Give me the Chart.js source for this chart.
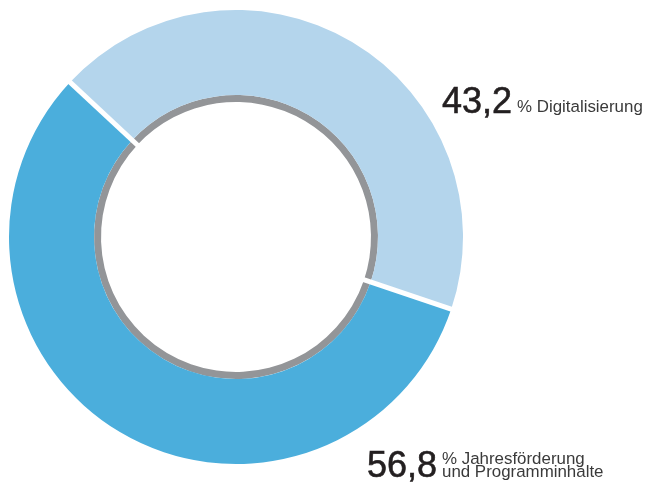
<!DOCTYPE html>
<html>
<head>
<meta charset="utf-8">
<script src="https://cdn.jsdelivr.net/npm/chart.js@4.4.1/dist/chart.umd.min.js"></script>
<style>
  html, body { margin: 0; padding: 0; background: #ffffff; }
  #wrap { position: relative; width: 650px; height: 485px; overflow: hidden; }
  canvas { position: absolute; left: 0; top: 0; }
  .lbl { position: absolute; white-space: nowrap; font-family: "Liberation Sans", Arial, sans-serif; }
  .big { font-size: 36px; line-height: 36px; color: #231f20; -webkit-text-stroke: 0.6px #231f20; }
  .small { font-size: 16.9px; line-height: 12.5px; color: #3a3a3a; }
</style>
</head>
<body>
<div id="wrap">
  <canvas id="c" width="650" height="485"></canvas>
  <div class="lbl big" style="left:442px; top:82.5px;">43,2</div>
  <div class="lbl small" style="left:517px; top:101px;">% Digitalisierung</div>
  <div class="lbl big" style="left:367px; top:446.5px;">56,8</div>
  <div class="lbl small" style="left:442px; top:453px;">% Jahresförderung<br>und Programminhalte</div>
</div>
<script>
const categories = ["Digitalisierung", "Jahresförderung und Programminhalte"];
const shares = [43.2, 56.8];
const segmentColors = ["#b4d5ec", "#4baedc"];
const ringColor = "#939598";

const gapLines = {
  id: "gapLines",
  afterDatasetsDraw(chart) {
    const ctx = chart.ctx;
    const meta = chart.getDatasetMeta(0);
    const inner = chart.getDatasetMeta(1);
    ctx.save();
    ctx.strokeStyle = "#ffffff";
    ctx.lineWidth = 5;
    meta.data.forEach((arc) => {
      const a = arc.startAngle;
      const r0 = inner.data[0].innerRadius - 2;
      const r1 = arc.outerRadius + 3;
      ctx.beginPath();
      ctx.moveTo(arc.x + Math.cos(a) * r0, arc.y + Math.sin(a) * r0);
      ctx.lineTo(arc.x + Math.cos(a) * r1, arc.y + Math.sin(a) * r1);
      ctx.stroke();
    });
    ctx.restore();
  }
};

new Chart(document.getElementById("c"), {
  type: "doughnut",
  data: {
    labels: categories,
    datasets: [
      { data: shares, backgroundColor: segmentColors, borderWidth: 0, weight: 85 },
      { data: shares, backgroundColor: [ringColor, ringColor], borderWidth: 0, weight: 7 }
    ]
  },
  options: {
    responsive: false,
    maintainAspectRatio: false,
    animation: false,
    rotation: -47,
    cutout: "59.47%",
    layout: { padding: { left: 9, top: 10, right: 187, bottom: 21 } },
    plugins: { legend: { display: false }, tooltip: { enabled: false } }
  },
  plugins: [gapLines]
});
</script>
</body>
</html>
